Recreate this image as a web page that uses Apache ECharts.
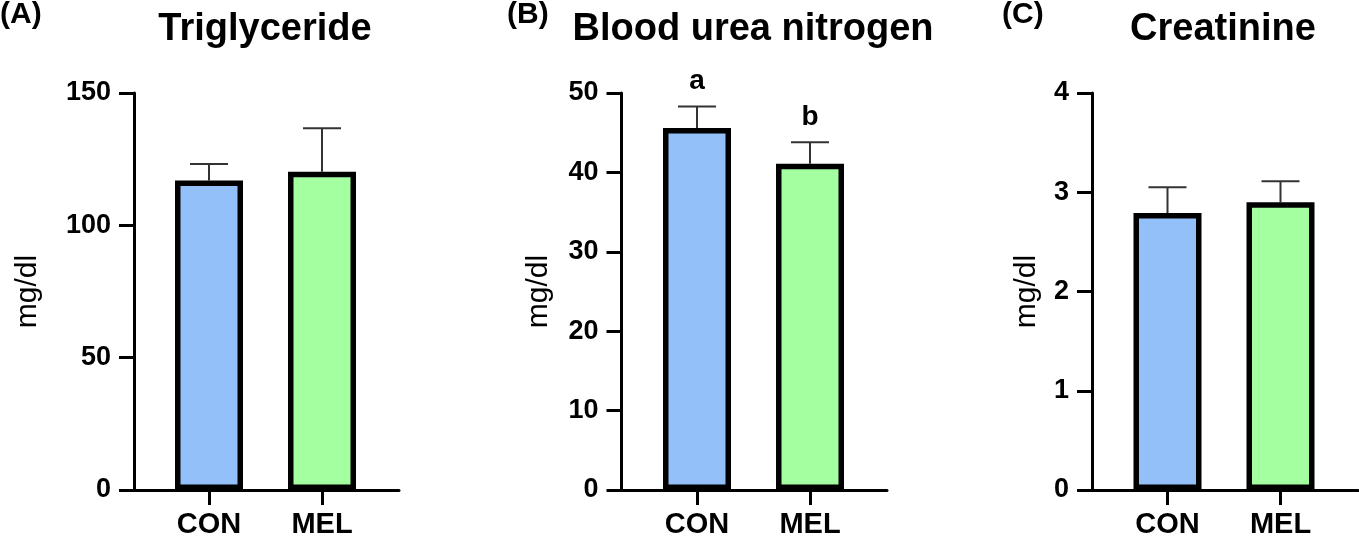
<!DOCTYPE html>
<html>
<head>
<meta charset="utf-8">
<script src="https://cdn.jsdelivr.net/npm/echarts@6/dist/echarts.min.js"></script>
<style>
  html, body { margin: 0; padding: 0; background: #fff; }
  #chart { width: 1359px; height: 539px; }
</style>
</head>
<body>
<div id="chart"></div>
<script>
// ---- data ----
const categories = ['CON', 'MEL'];
const barColors = ['#93c0f8', '#a3ffa0'];

const titles = ['Triglyceride', 'Blood urea nitrogen', 'Creatinine'];
const panelLabels = ['(A)', '(B)', '(C)'];
const yAxisName = 'mg/dl';

const tgMean = [116.9, 120.2];
const tgSd = [6.3, 16.5];
const bunMean = [45.6, 41.1];
const bunSd = [2.7, 2.7];
const bunLetters = ['a', 'b'];
const creMean = [2.79, 2.90];
const creSd = [0.26, 0.21];

const yMax = [150, 50, 4];
const yInterval = [50, 10, 1];

// ---- layout (pixels) ----
const FONT = '"Liberation Sans", Arial, Helvetica, sans-serif';
const gridTop = 93, gridHeight = 397;
const layout = [
  { axisX: 134,   axisRight: 399,  plotLeft: 152.5, nameGap: 91, titleX: 265,  labelX: 0 },
  { axisX: 621.5, axisRight: 887,  plotLeft: 640.5, nameGap: 68, titleX: 753,  labelX: 507 },
  { axisX: 1092,  axisRight: 1358, plotLeft: 1111,  nameGap: 50, titleX: 1223, labelX: 1002 }
];
const plotWidth = 226;

const panels = [
  { mean: tgMean, sd: tgSd, letters: null },
  { mean: bunMean, sd: bunSd, letters: bunLetters },
  { mean: creMean, sd: creSd, letters: null }
];

const grid = [], xAxis = [], yAxis = [], series = [], graphic = [];

panels.forEach((p, i) => {
  const L = layout[i];
  const fi = 2 * i, pi = 2 * i + 1;
  grid.push({ left: L.axisX, top: gridTop, width: L.axisRight - L.axisX, height: gridHeight, containLabel: false });
  grid.push({ left: L.plotLeft, top: gridTop, width: plotWidth, height: gridHeight, containLabel: false });

  // frame axes
  xAxis.push({
    gridIndex: fi, type: 'value', min: 0, max: 1,
    axisLine: { show: true, onZero: false, lineStyle: { color: '#000', width: 3 } },
    axisTick: { show: false }, axisLabel: { show: false }, splitLine: { show: false }
  });
  yAxis.push({
    gridIndex: fi, type: 'value', min: 0, max: yMax[i], interval: yInterval[i],
    axisLine: { show: true, onZero: false, lineStyle: { color: '#000', width: 3 } },
    axisTick: { show: true, length: 15, lineStyle: { color: '#000', width: 3 } },
    axisLabel: { color: '#000', fontSize: 27, fontWeight: 'bold', fontFamily: FONT, margin: 23 },
    splitLine: { show: false },
    name: yAxisName, nameLocation: 'middle', nameGap: L.nameGap,
    nameTextStyle: { color: '#000', fontSize: 30, fontFamily: FONT, fontWeight: 'normal' }
  });

  // plot axes
  xAxis.push({
    gridIndex: pi, type: 'category', data: categories,
    axisLine: { show: false },
    axisTick: { show: true, alignWithLabel: true, length: 15, lineStyle: { color: '#000', width: 3 } },
    axisLabel: { color: '#000', fontSize: 29, fontWeight: 'bold', fontFamily: FONT, margin: 20 },
    splitLine: { show: false }
  });
  yAxis.push({
    gridIndex: pi, type: 'value', min: 0, max: yMax[i], interval: yInterval[i], show: false,
    splitLine: { show: false }
  });

  series.push({
    type: 'bar', xAxisIndex: pi, yAxisIndex: pi, barWidth: 68, z: 3,
    data: p.mean.map((v, k) => ({ value: v, itemStyle: { color: barColors[k] } })),
    itemStyle: { borderColor: '#000', borderWidth: 5.5 },
    emphasis: { disabled: true }, animation: false
  });

  const letters = p.letters;
  series.push({
    type: 'custom', xAxisIndex: pi, yAxisIndex: pi, z: 2, animation: false,
    data: p.mean.map((v, k) => [k, v, p.sd[k]]),
    renderItem: function (params, api) {
      const idx = api.value(0), m = api.value(1), s = api.value(2);
      const base = api.coord([idx, m]);
      const top = api.coord([idx, m + s]);
      const half = 19;
      const style = { stroke: '#333', lineWidth: 2 };
      const children = [
        { type: 'line', shape: { x1: base[0], y1: base[1], x2: top[0], y2: top[1] }, style: style },
        { type: 'line', shape: { x1: top[0] - half, y1: top[1], x2: top[0] + half, y2: top[1] }, style: style }
      ];
      if (letters && letters[idx]) {
        children.push({
          type: 'text',
          style: {
            text: letters[idx], x: top[0], y: top[1] - 25,
            align: 'center', verticalAlign: 'middle',
            font: 'bold 28px ' + FONT, fill: '#000'
          }
        });
      }
      return { type: 'group', children: children };
    }
  });

  graphic.push({
    type: 'text', x: L.titleX, y: 30,
    style: { text: titles[i], x: 0, y: 0, align: 'center', verticalAlign: 'middle', font: 'bold 38px ' + FONT, fill: '#000' }
  });
  graphic.push({
    type: 'text', x: L.labelX, y: 15,
    style: { text: panelLabels[i], x: 0, y: 0, align: 'left', verticalAlign: 'middle', font: 'bold 30px ' + FONT, fill: '#000' }
  });
});

const chart = echarts.init(document.getElementById('chart'), null, { renderer: 'canvas' });
chart.setOption({
  animation: false,
  backgroundColor: '#fff',
  grid: grid, xAxis: xAxis, yAxis: yAxis, series: series, graphic: graphic
});
</script>
</body>
</html>
